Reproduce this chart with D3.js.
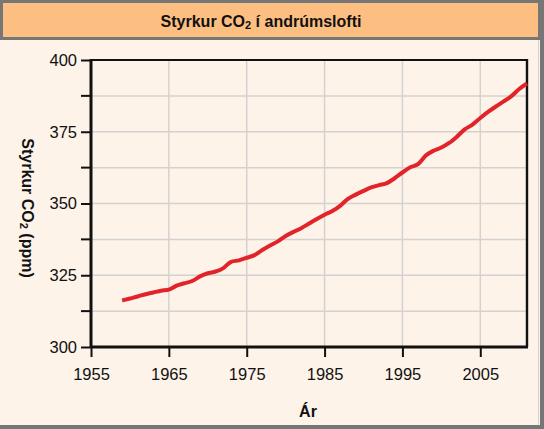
<!DOCTYPE html>
<html>
<head>
<meta charset="utf-8">
<script src="https://cdn.jsdelivr.net/npm/d3@7"></script>
<style>
  body { margin: 0; padding: 0; }
  svg { display: block; font-family: 'Liberation Sans', Arial, sans-serif; }
</style>
</head>
<body>
<div id="chart"></div>
<script>
// annual mean CO2 (ppm)
const years = [1959, 1960, 1961, 1962, 1963, 1964, 1965, 1966, 1967, 1968, 1969,
  1970, 1971, 1972, 1973, 1974, 1975, 1976, 1977, 1978, 1979, 1980, 1981, 1982,
  1983, 1984, 1985, 1986, 1987, 1988, 1989, 1990, 1991, 1992, 1993, 1994, 1995,
  1996, 1997, 1998, 1999, 2000, 2001, 2002, 2003, 2004, 2005, 2006, 2007, 2008,
  2009, 2010, 2011];
const co2 = [316.2, 316.9, 317.6, 318.4, 319.0, 319.6, 320.0, 321.4, 322.2, 323.0,
  324.6, 325.7, 326.3, 327.5, 329.7, 330.2, 331.1, 332.0, 333.8, 335.4, 336.8,
  338.7, 340.1, 341.4, 343.0, 344.6, 346.1, 347.4, 349.2, 351.6, 353.1, 354.4,
  355.6, 356.4, 357.1, 358.8, 360.8, 362.6, 363.7, 366.7, 368.4, 369.5, 371.1,
  373.3, 375.8, 377.5, 379.8, 381.9, 383.8, 385.6, 387.4, 389.9, 391.8];
const xTicks = [1955, 1965, 1975, 1985, 1995, 2005];
const yTicks = [300, 325, 350, 375, 400];
const yMinor = [312.5, 337.5, 362.5, 387.5];

const width = 544, height = 429;
const plot = { l: 91, r: 527, t: 60, b: 347 };
const font = 'Liberation Sans, Arial, sans-serif';

const svg = d3.select('#chart').append('svg')
  .attr('width', width)
  .attr('height', height);

// frame
svg.append('rect').attr('width', width).attr('height', height).attr('fill', '#767676');
svg.append('rect')
  .attr('x', 0).attr('y', 40)
  .attr('width', 540).attr('height', 385)
  .attr('fill', '#fdf3e9');
svg.append('line')
  .attr('x1', 538.5).attr('x2', 538.5).attr('y1', 40).attr('y2', 425)
  .attr('stroke', '#d8d2cc').attr('stroke-width', 1);
svg.append('rect')
  .attr('x', 3).attr('y', 3)
  .attr('width', 535).attr('height', 34)
  .attr('fill', '#fdbf81');

// title
const title = svg.append('text')
  .attr('x', 261).attr('y', 27)
  .attr('text-anchor', 'middle')
  .attr('font-size', 16)
  .attr('font-weight', 'bold')
  .attr('fill', '#111');
title.append('tspan').text('Styrkur CO');
title.append('tspan').attr('font-size', 11).attr('dy', 2).text('2');
title.append('tspan').attr('dy', -2).text(' í andrúmslofti');

const x = d3.scaleLinear()
  .domain([1955, 2011])
  .range([plot.l, plot.r]);
const y = d3.scaleLinear()
  .domain([300, 400])
  .range([plot.b, plot.t]);

// grids
svg.append('g')
  .attr('class', 'x-grid')
  .selectAll('line')
  .data(xTicks.slice(1))
  .join('line')
  .attr('x1', (d) => x(d))
  .attr('x2', (d) => x(d))
  .attr('y1', plot.t)
  .attr('y2', plot.b)
  .attr('stroke', '#d4d2d0')
  .attr('stroke-width', 1.5);
svg.append('g')
  .attr('class', 'y-grid')
  .selectAll('line')
  .data(yTicks.slice(1, -1).concat(yMinor))
  .join('line')
  .attr('y1', (d) => y(d))
  .attr('y2', (d) => y(d))
  .attr('x1', plot.l)
  .attr('x2', plot.r)
  .attr('stroke', '#d4d2d0')
  .attr('stroke-width', 1.5);

// plot border (top, right)
svg.append('line')
  .attr('x1', plot.l).attr('x2', plot.r)
  .attr('y1', plot.t).attr('y2', plot.t)
  .attr('stroke', '#111').attr('stroke-width', 1.8);
svg.append('line')
  .attr('x1', plot.r).attr('x2', plot.r)
  .attr('y1', plot.t - 0.9).attr('y2', plot.b)
  .attr('stroke', '#111').attr('stroke-width', 2.4);

// data line
const line = d3.line()
  .x((d, i) => x(years[i]))
  .y((d) => y(d))
  .curve(d3.curveMonotoneX);
svg.append('path')
  .datum(co2)
  .attr('d', line)
  .attr('fill', 'none')
  .attr('stroke', '#e2232a')
  .attr('stroke-width', 4)
  .attr('stroke-linejoin', 'round');

// x axis
const xAxis = svg.append('g')
  .attr('transform', `translate(0,${plot.b})`)
  .call(d3.axisBottom(x).tickValues(xTicks).tickFormat(d3.format('d')).tickSize(10).tickPadding(11));
xAxis.select('.domain').remove();
xAxis.selectAll('.tick line').attr('stroke', '#111').attr('stroke-width', 2);
xAxis.selectAll('.tick text').attr('font-size', 16.5).attr('fill', '#111')
  .attr('font-family', font);

// y axis
const yAxis = svg.append('g')
  .attr('transform', `translate(${plot.l},0)`)
  .call(d3.axisLeft(y).tickValues(yTicks).tickSize(10).tickPadding(4));
yAxis.select('.domain').remove();
yAxis.selectAll('.tick line').attr('stroke', '#111').attr('stroke-width', 2);
yAxis.selectAll('.tick text').attr('font-size', 16.5).attr('fill', '#111')
  .attr('font-family', font);
yAxis.append('g')
  .selectAll('line')
  .data(yMinor)
  .join('line')
  .attr('x1', -10).attr('x2', 0)
  .attr('y1', (d) => y(d)).attr('y2', (d) => y(d))
  .attr('stroke', '#111').attr('stroke-width', 2);

// axis lines
svg.append('line')
  .attr('x1', plot.l).attr('x2', plot.r + 1)
  .attr('y1', plot.b).attr('y2', plot.b)
  .attr('stroke', '#111').attr('stroke-width', 3);
svg.append('line')
  .attr('x1', plot.l).attr('x2', plot.l)
  .attr('y1', plot.t - 1).attr('y2', plot.b)
  .attr('stroke', '#111').attr('stroke-width', 3);

// axis labels
svg.append('text')
  .attr('x', 308).attr('y', 417)
  .attr('text-anchor', 'middle')
  .attr('font-size', 16)
  .attr('font-weight', 'bold')
  .attr('fill', '#111')
  .text('Ár');
const yLabel = svg.append('text')
  .attr('transform', 'translate(22,208) rotate(90)')
  .attr('text-anchor', 'middle')
  .attr('font-size', 16)
  .attr('font-weight', 'bold')
  .attr('fill', '#111');
yLabel.append('tspan').text('Styrkur CO');
yLabel.append('tspan').attr('font-size', 11).attr('dy', 2).text('2');
yLabel.append('tspan').attr('dy', -2).text(' (ppm)');
</script>
</body>
</html>
